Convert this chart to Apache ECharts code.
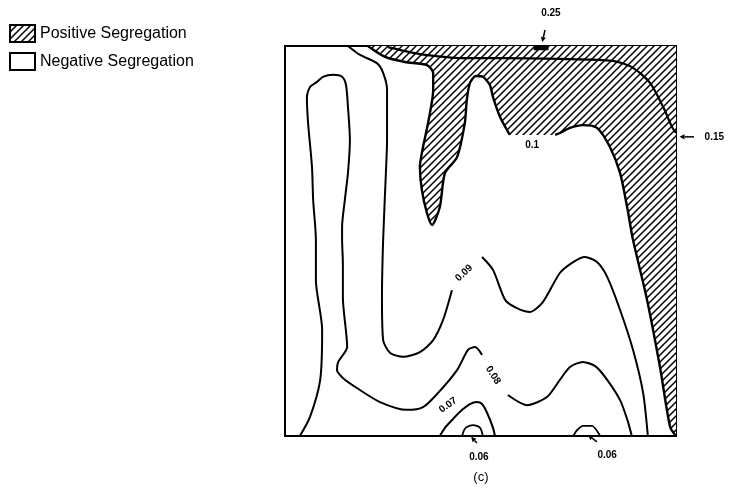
<!DOCTYPE html>
<html><head><meta charset="utf-8">
<script src="https://cdn.jsdelivr.net/npm/echarts@6/dist/echarts.min.js"></script>
<style>html,body{margin:0;padding:0;background:#fff}#c{width:744px;height:495px}</style>
</head><body><div id="c"></div>
<script>
// Contour lines, positions as % of the section width (x) and height (y)
const contour008a = [[3.8,0],[6.4,4.9],[9.0,14.4],[9.5,27.2],[7.9,40.0],[7.9,50.3],[7.2,60.5],[6.9,69.0],[5.9,80.3],[5.6,86.9],[6.4,89.5],[8.2,90.8],[9.7,92.1],[12.3,92.6],[14.6,92.1],[15.6,90.0],[16.1,84.4],[16.6,75.9],[16.1,67.4],[15.3,60.5],[14.6,53.6],[14.6,50.3],[14.8,44.4],[14.8,35.6],[15.9,22.8],[13.6,19.0],[13.3,16.9],[14.8,14.9],[18.4,12.3],[24.3,8.7],[31.2,6.7],[35.3,7.4],[39.1,11.0],[44.0,16.9],[46.8,22.1],[48.6,22.8],[50.4,20.8]];
const contour008b = [[57.0,10.5],[61.9,7.9],[67.0,10.0],[70.3,14.4],[72.9,17.7],[76.2,19.0],[79.5,17.8],[82.4,14.4],[85.7,9.2],[87.6,4.0],[88.7,0]];
const contour009a = [[16.1,100],[19.2,97.7],[23.5,95.6],[25.1,93.1],[26.1,88.7],[26.1,75.9],[25.8,67.4],[25.1,50.3],[24.8,35.6],[25.1,24.6],[26.9,21.3],[30.2,20.3],[34.5,21.5],[37.9,24.6],[40.4,29.7],[42.7,37.4]];
const contour009b = [[50.4,45.9],[53.2,42.6],[56.3,34.9],[59.3,32.8],[62.7,31.8],[66.0,34.4],[70.3,41.8],[73.7,44.6],[76.7,45.9],[79.8,44.6],[82.4,40.8],[85.7,32.3],[89.0,22.1],[91.6,11.0],[92.8,0]];
const contour010a = [[21.2,100],[25.6,97.2],[30.7,95.9],[36.3,95.1],[37.9,93.1],[37.9,88.7],[36.6,80.3],[35.3,74.1],[34.5,69.0],[35.0,63.1],[36.3,57.2],[37.6,54.1],[39.6,58.7],[40.9,67.4],[44.0,71.5],[46.0,80.3],[46.5,86.2],[47.3,90.5],[48.8,92.3],[50.6,92.1],[52.4,90.0],[53.2,86.9],[55.0,81.8],[57.5,77.2]];
const contour010b = [[69.1,77.2],[70.3,77.7],[72.9,79.0],[76.2,79.7],[79.8,79.0],[83.1,74.1],[85.7,67.4],[87.5,58.7],[89.0,50.3],[92.6,34.9],[95.9,17.7],[98.5,2.3],[100,0]];
const contour015 = [[26.3,99.7],[34.5,97.9],[40.9,97.2],[44.8,96.9],[55.0,96.9],[70.3,96.7],[83.9,96.2],[89.0,94.4],[93.4,90.5],[96.7,84.4],[99.0,79.2],[100,77.7]];
const contour025 = [[63.6,99.5],[67.4,99.5]];
const contour007 = [[39.6,0],[40.9,2.1],[43.0,4.4],[45.3,6.7],[47.3,8.2],[49.1,8.7],[50.4,8.2],[51.7,5.9],[53.2,2.1],[53.7,0]];
const contour006a = [[45.3,0],[45.8,1.5],[46.5,2.3],[48.1,2.8],[49.9,2.1],[50.6,0]];
const contour006b = [[73.7,0],[74.7,1.5],[76.2,2.6],[78.5,2.6],[80.6,0]];

// Labels
const labelTexts = ['0.25','0.15','0.1','0.09','0.08','0.07','0.06','0.06','(c)'];
const labelX = [68.0,109.8,63.2,45.8,53.2,41.7,49.6,82.4,50.1];
const labelY = [108.5,76.7,74.6,41.8,15.6,7.9,-5.4,-4.9,-10.6];
const labelRot = [0,0,0,43,-57,35,0,0,0];
// Arrows: [fromX, fromY, toX, toY]
const arrows = [[66.5,104.1,65.8,101.0],[104.6,76.7,100.9,76.7],[49.1,-1.8,47.6,-0.2],[79.8,-1.5,77.5,0.2]];

const legendNames = ['Positive Segregation','Negative Segregation'];

function makeHatch(){
  const c=document.createElement('canvas'); c.width=7; c.height=7;
  const g=c.getContext('2d'); g.fillStyle='#fff'; g.fillRect(0,0,7,7);
  g.strokeStyle='#000'; g.lineWidth=1.5; g.beginPath();
  g.moveTo(-1,8); g.lineTo(8,-1); g.moveTo(-1,1); g.lineTo(1,-1); g.moveTo(6,8); g.lineTo(8,6);
  g.stroke(); return c;
}
const pattern = {image: makeHatch(), repeat:'repeat'};
const hatchPoly = contour010a.concat(contour010b, [[100,100]]);

const chart = echarts.init(document.getElementById('c'), null, {renderer:'canvas'});
function lineSeries(d, w){
  return {type:'line', data:d, symbol:'none', smooth:0.25, silent:true, z:3,
    lineStyle:{color:'#000', width:w||2}};
}
const FONT = '"Liberation Sans", Arial, sans-serif';
chart.setOption({
  animation:false,
  grid:{left:285, top:46, width:391, height:390, show:true, borderColor:'#000', borderWidth:2, backgroundColor:'#fff'},
  xAxis:{type:'value', min:0, max:100, show:false},
  yAxis:{type:'value', min:0, max:100, show:false},
  legend:{orient:'vertical', left:4, top:19, itemWidth:25, itemHeight:17, itemGap:9, selectedMode:false,
    textStyle:{fontSize:16, fontFamily:FONT, color:'#000'},
    data:[{name:legendNames[0], icon:'rect', itemStyle:{color:pattern, borderColor:'#000', borderWidth:2}},
          {name:legendNames[1], icon:'rect', itemStyle:{color:'#fff', borderColor:'#000', borderWidth:2}}]},
  series:[
    {type:'custom', name:legendNames[0], coordinateSystem:'cartesian2d', data:[[0,0]], z:1, silent:true,
      itemStyle:{color:pattern},
      renderItem:(p,api)=>({type:'polygon', shape:{points:hatchPoly.map(q=>api.coord(q))}, style:{fill:pattern, stroke:null}})},
    {type:'custom', name:legendNames[1], coordinateSystem:'cartesian2d', data:[], itemStyle:{color:'#fff'}, renderItem:()=>null},
    lineSeries(contour008a), lineSeries(contour008b),
    lineSeries(contour009a), lineSeries(contour009b),
    lineSeries(contour010a,2.4), lineSeries(contour010b,2.4),
    lineSeries(contour015,2.2), lineSeries(contour025,4.5),
    lineSeries(contour007), lineSeries(contour006a,1.8), lineSeries(contour006b,1.8),
    {type:'custom', coordinateSystem:'cartesian2d', data:labelTexts.map((t,i)=>[labelX[i],labelY[i]]), z:5, silent:true, clip:false,
      renderItem:(p,api)=>{
        const i=p.dataIndex; const pt=api.coord([labelX[i],labelY[i]]);
        const big = labelTexts[i]==='(c)';
        return {type:'text', x:pt[0], y:pt[1], rotation:labelRot[i]*Math.PI/180,
          style:{text:labelTexts[i], x:0, y:0, align:'center', verticalAlign:'middle', fill:'#000',
            font:(big?'normal 13px ':'bold 10px ')+FONT, backgroundColor: (labelRot[i]!==0||labelTexts[i]==='0.1')?'#fff':null}};
      }},
    {type:'custom', coordinateSystem:'cartesian2d', data:arrows.map(a=>[a[0],a[1]]), z:5, silent:true, clip:false,
      renderItem:(p,api)=>{
        const a=arrows[p.dataIndex]; const s=api.coord([a[0],a[1]]); const e=api.coord([a[2],a[3]]);
        const dx=e[0]-s[0], dy=e[1]-s[1], L=Math.hypot(dx,dy), ux=dx/L, uy=dy/L;
        const hl=5, hw=2.6; const bx=e[0]-ux*hl, by=e[1]-uy*hl;
        return {type:'group', children:[
          {type:'line', shape:{x1:s[0],y1:s[1],x2:bx,y2:by}, style:{stroke:'#000', lineWidth:1.5}},
          {type:'polygon', shape:{points:[[e[0],e[1]],[bx-uy*hw,by+ux*hw],[bx+uy*hw,by-ux*hw]]}, style:{fill:'#000'}}
        ]};
      }}
  ]
});
</script></body></html>
